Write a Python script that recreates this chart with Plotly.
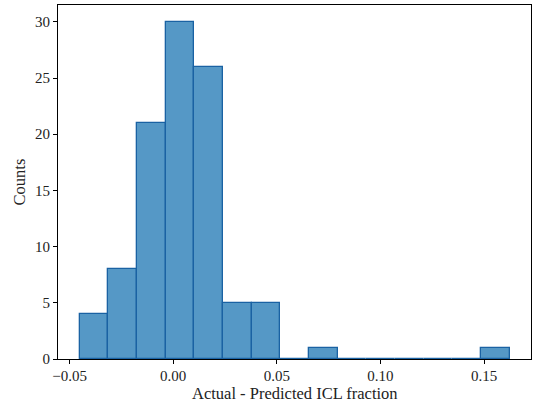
import plotly.graph_objects as go

# histogram data
bin_start = -0.0452
bin_width = 0.01383
counts = [4, 8, 21, 30, 26, 5, 5, 0, 1, 0, 0, 0, 0, 0, 1]
x_ticks = [-0.05, 0.0, 0.05, 0.10, 0.15]
x_tick_labels = ["\u22120.05", "0.00", "0.05", "0.10", "0.15"]
y_ticks = [0, 5, 10, 15, 20, 25, 30]

centers = [bin_start + (i + 0.5) * bin_width for i in range(len(counts))]
x_min = bin_start
x_max = bin_start + len(counts) * bin_width
pad = 0.05 * (x_max - x_min)

fig = go.Figure(go.Bar(
    x=centers, y=counts, width=[bin_width] * len(counts),
    marker=dict(color="rgba(31,119,180,0.76)", line=dict(color="#1a62a3", width=1.3)),
))

font = dict(family="Liberation Serif, DejaVu Serif, serif", size=15, color="#222")
title_font = dict(family="Liberation Serif, DejaVu Serif, serif", size=16.5, color="#222")
axis_common = dict(showline=True, linecolor="black", linewidth=1, mirror=True,
                   ticks="outside", ticklen=4, tickwidth=1, tickcolor="black",
                   showgrid=False, zeroline=False, tickfont=font, automargin=False)
fig.update_layout(
    width=540, height=402,
    margin=dict(l=58, r=9, t=5, b=43),
    plot_bgcolor="white", paper_bgcolor="white",
    bargap=0, showlegend=False,
    font=font,
    xaxis=dict(range=[x_min - pad, x_max + pad], tickvals=x_ticks, ticktext=x_tick_labels,
               ticklabelstandoff=-1, **axis_common),
    yaxis=dict(range=[0, 31.5], tickvals=y_ticks,
               title=dict(text="Counts", font=title_font, standoff=5),
               **axis_common),
    annotations=[dict(text="Actual - Predicted ICL fraction", font=title_font,
                      xref="paper", yref="paper", x=0.5, y=0, xanchor="center",
                      yanchor="bottom", yshift=-46, showarrow=False)],
)
fig.write_html("out.html", config={"displayModeBar": False},
               post_script="document.body.style.margin='0';")
